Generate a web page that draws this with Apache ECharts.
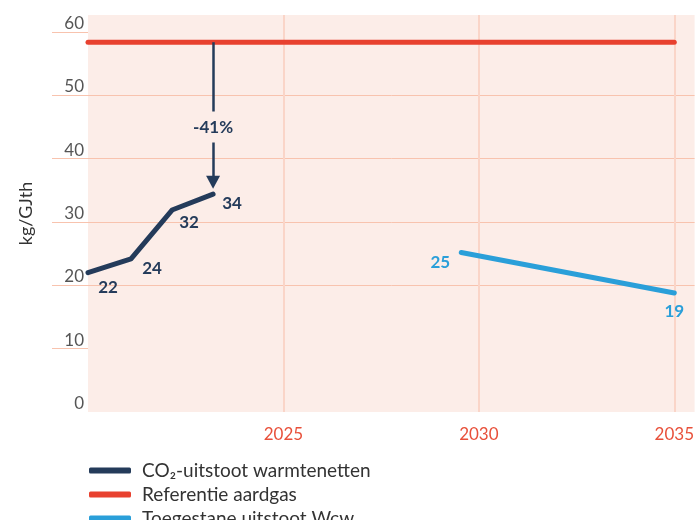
<!DOCTYPE html>
<html>
<head>
<meta charset="utf-8">
<script src="https://cdn.jsdelivr.net/npm/echarts@6/dist/echarts.min.js"></script>
<style>
html,body{margin:0;padding:0;background:#fff;}
#chart{width:697px;height:520px;}
</style>
</head>
<body>
<div id="chart"></div>
<script>
// ---- data ----
const seriesNames = ['CO\u2082-uitstoot warmtenetten', 'Referentie aardgas', 'Toegestane uitstoot Wcw'];
const warmteYears = [2020, 2021.1, 2022.15, 2023.2];
const warmteValues = [22, 24.2, 31.9, 34.4];
const aardgasYears = [2020, 2035];
const aardgasValues = [58.4, 58.4];
const wcwYears = [2029.55, 2035];
const wcwValues = [25.2, 18.8];
const yTicks = [0, 10, 20, 30, 40, 50, 60];
const xTicks = [2025, 2030, 2035];
const arrowYear = 2023.2;
const arrowFrom = 58.4;
const arrowTo = 36.3;
const arrowLabel = '-41%';
const arrowLabelValue = 45.0;

// ---- styling (not data) ----
const warmteLabelOffsets = [[20, 15], [21, 10], [17, 12], [19, 9]];
const wcwLabelOffsets = [[-21, 10], [0, 19]];
const legendTops = [456, 480, 504];

const NAVY = '#243b5a', RED = '#e8412f', BLUE = '#2a9fd9';
const BG = '#fcede8', HGRID = '#f8c3ae', VGRID = '#fad5c8';
const FONT = 'Lato, "Open Sans", sans-serif';

function zipPoints(xs, ys, offsets) {
  return xs.map((x, i) => ({
    value: [x, ys[i]],
    label: offsets ? { offset: offsets[i] } : undefined
  }));
}

const dataLabel = (color) => ({
  show: true,
  position: 'inside',
  formatter: (p) => String(Math.round(p.value[1])),
  color: color,
  fontFamily: FONT,
  fontWeight: 'bold',
  fontSize: 17
});

const chart = echarts.init(document.getElementById('chart'));
chart.setOption({
  animation: false,
  grid: {
    left: 88, right: 0, top: 15, bottom: 108,
    show: true, backgroundColor: BG, borderWidth: 0
  },
  legend: seriesNames.map((n, i) => ({
    orient: 'vertical',
    left: 84, top: legendTops[i],
    itemWidth: 42, itemHeight: 6,
    icon: 'roundRect',
    data: [n],
    textStyle: { fontFamily: FONT, fontSize: 19, color: '#333', padding: [0, 0, 0, 6] }
  })),
  xAxis: {
    type: 'value',
    min: 2020, max: 2035.52, interval: 5,
    axisLine: { show: false },
    axisTick: { show: false },
    axisLabel: {
      customValues: xTicks,
      formatter: (v) => String(v),
      color: '#e8503a', fontFamily: FONT, fontSize: 17, margin: 14
    },
    splitLine: {
      show: true, showMinLine: false, showMaxLine: false,
      lineStyle: { color: VGRID, width: 2 }
    }
  },
  yAxis: {
    type: 'value',
    min: 0, max: 62.7, interval: 10,
    name: 'kg/GJth', nameLocation: 'middle', nameGap: 53, nameRotate: 90,
    nameTextStyle: { fontFamily: FONT, fontSize: 18, color: '#333' },
    axisLine: { show: false },
    axisTick: {
      show: true, length: 36, customValues: yTicks.slice(1),
      lineStyle: { color: HGRID, width: 1 }
    },
    axisLabel: {
      customValues: yTicks,
      color: '#555', fontFamily: FONT, fontSize: 17, margin: 4,
      verticalAlign: 'bottom', lineHeight: 17, padding: [0, 0, 0, 0]
    },
    splitLine: {
      show: true, showMinLine: false, showMaxLine: false,
      lineStyle: { color: HGRID, width: 1 }
    }
  },
  series: [
    {
      name: seriesNames[0], type: 'line',
      data: zipPoints(warmteYears, warmteValues, warmteLabelOffsets),
      color: NAVY,
      symbol: 'circle', symbolSize: 2, showSymbol: true,
      lineStyle: { width: 5, color: NAVY, cap: 'round', join: 'round' },
      label: dataLabel(NAVY),
      z: 4,
      markLine: {
        silent: true,
        symbol: ['none', 'triangle'],
        symbolSize: [14, 13],
        lineStyle: { color: NAVY, width: 2.5, type: 'solid' },
        label: { show: false },
        data: [[{ coord: [arrowYear, arrowFrom] }, { coord: [arrowYear, arrowTo] }]]
      }
    },
    {
      name: seriesNames[1], type: 'line',
      data: zipPoints(aardgasYears, aardgasValues, null),
      color: RED,
      symbol: 'none',
      lineStyle: { width: 5, color: RED, cap: 'round' },
      z: 3
    },
    {
      name: seriesNames[2], type: 'line',
      data: zipPoints(wcwYears, wcwValues, wcwLabelOffsets),
      color: BLUE,
      symbol: 'circle', symbolSize: 2, showSymbol: true,
      lineStyle: { width: 5, color: BLUE, cap: 'round' },
      label: dataLabel(BLUE),
      z: 4
    },
    {
      type: 'scatter',
      data: [[arrowYear, arrowLabelValue]],
      symbolSize: 1,
      itemStyle: { color: BG, opacity: 1 },
      z: 6,
      label: {
        show: true, position: 'inside',
        formatter: arrowLabel,
        color: NAVY, fontFamily: FONT, fontWeight: 'bold', fontSize: 17,
        backgroundColor: BG, padding: [7, 2]
      },
      silent: true
    }
  ]
});
</script>
</body>
</html>
